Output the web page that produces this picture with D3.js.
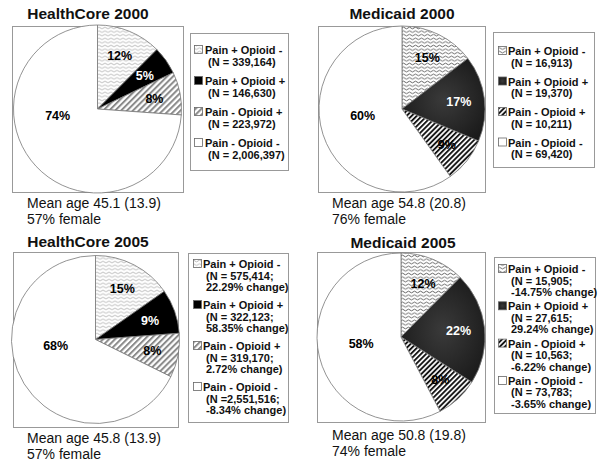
<!DOCTYPE html>
<html><head><meta charset="utf-8">
<script src="https://cdn.jsdelivr.net/npm/d3@7/dist/d3.min.js"></script>
<style>body{margin:0;background:#fff}svg{display:block}text{font-family:"Liberation Sans",Arial,sans-serif}</style>
</head><body><svg id="c" width="600" height="465"></svg>
<script>
// ---- data ----
const panelTitles = ["HealthCore 2000", "Medicaid 2000", "HealthCore 2005", "Medicaid 2005"];
const categories = ["Pain + Opioid -", "Pain + Opioid +", "Pain - Opioid +", "Pain - Opioid -"];
const countsHC2000 = [339164, 146630, 223972, 2006397];
const countsMC2000 = [16913, 19370, 10211, 69420];
const countsHC2005 = [575414, 322123, 319170, 2551516];
const countsMC2005 = [15905, 27615, 10563, 73783];
const nLabelsHC2000 = ["(N = 339,164)", "(N = 146,630)", "(N = 223,972)", "(N = 2,006,397)"];
const nLabelsMC2000 = ["(N = 16,913)", "(N = 19,370)", "(N = 10,211)", "(N = 69,420)"];
const nLabelsHC2005 = ["(N = 575,414;", "(N = 322,123;", "(N = 319,170;", "(N =2,551,516;"];
const nLabelsMC2005 = ["(N = 15,905;", "(N = 27,615;", "(N = 10,563;", "(N = 73,783;"];
const changeHC2005 = ["22.29% change)", "58.35% change)", "2.72% change)", "-8.34% change)"];
const changeMC2005 = ["-14.75% change)", "29.24% change)", "-6.22% change)", "-3.65% change)"];
const meanAgeLines = ["Mean age 45.1 (13.9)", "Mean age 54.8 (20.8)", "Mean age 45.8 (13.9)", "Mean age 50.8 (19.8)"];
const femaleLines = ["57% female", "76% female", "57% female", "74% female"];

const svg = d3.select("#c");
const defs = svg.append("defs");

function makePatterns(id, waveColor, stripeColor, stripeW, stripeGap) {
  const w = defs.append("pattern").attr("id", "wave" + id).attr("patternUnits", "userSpaceOnUse")
    .attr("width", 6).attr("height", 3.6);
  w.append("rect").attr("width", 6).attr("height", 3.6).attr("fill", "#fff");
  w.append("path").attr("d", "M0 1.8 Q1.5 0.2 3 1.8 T6 1.8").attr("fill", "none")
    .attr("stroke", waveColor).attr("stroke-width", 0.9);
  const s = defs.append("pattern").attr("id", "stripe" + id).attr("patternUnits", "userSpaceOnUse")
    .attr("width", stripeGap).attr("height", 10).attr("patternTransform", "rotate(45)");
  s.append("rect").attr("width", stripeGap).attr("height", 10).attr("fill", "#fff");
  s.append("rect").attr("width", stripeW).attr("height", 10).attr("fill", stripeColor);
}
makePatterns("HC", "#b0b0b0", "#8a8a8a", 2, 4.2);
makePatterns("MC", "#555", "#151515", 1.9, 3.6);
const g = defs.append("radialGradient").attr("id", "darkMC").attr("cx", "50%").attr("cy", "50%").attr("r", "60%");
g.append("stop").attr("offset", "0%").attr("stop-color", "#3a3a3a");
g.append("stop").attr("offset", "100%").attr("stop-color", "#1a1a1a");

const panels = [
  { title: panelTitles[0], counts: countsHC2000, lines: [nLabelsHC2000], kind: "HC",
    titleX: 88, titleY: 19, box: [12, 26, 171, 166], c: [97.5, 109], r: 84,
    leg: [190, 33, 98, 137], legY: 54, legStep: 31, textX: 205, iconX: 194,
    capX: 27, capY: 208 },
  { title: panelTitles[1], counts: countsMC2000, lines: [nLabelsMC2000], kind: "MC",
    titleX: 402, titleY: 19, box: [318, 26, 167, 166], c: [402, 109], r: 83,
    leg: [493, 32, 101, 135], legY: 55, legStep: 30.5, textX: 508, iconX: 498,
    capX: 332, capY: 208 },
  { title: panelTitles[2], counts: countsHC2005, lines: [nLabelsHC2005, changeHC2005], kind: "HC",
    titleX: 88, titleY: 247, box: [13, 252, 165, 175], c: [95.5, 339.5], r: 84,
    leg: [188, 253, 100, 169], legY: 268, legStep: 41, textX: 203, iconX: 193,
    capX: 27, capY: 443 },
  { title: panelTitles[3], counts: countsMC2005, lines: [nLabelsMC2005, changeMC2005], kind: "MC",
    titleX: 403, titleY: 248, box: [317, 252, 168, 170], c: [401, 337], r: 84,
    leg: [494, 257, 101, 156], legY: 273, legStep: 37.3, textX: 508, iconX: 498,
    capX: 332, capY: 440 }
];

function fillFor(kind, i) {
  if (i === 0) return `url(#wave${kind})`;
  if (i === 1) return kind === "MC" ? "url(#darkMC)" : "#000";
  if (i === 2) return `url(#stripe${kind})`;
  return "#fff";
}

const pie = d3.pie().sort(null).value(d => d);

panels.forEach(p => {
  const grp = svg.append("g");
  grp.append("text").attr("x", p.titleX).attr("y", p.titleY).attr("text-anchor", "middle")
    .attr("font-size", 15.5).attr("font-weight", "bold").attr("fill", "#111").text(p.title);
  grp.append("rect").attr("x", p.box[0] + 0.5).attr("y", p.box[1] + 0.5)
    .attr("width", p.box[2]).attr("height", p.box[3]).attr("fill", "#fff").attr("stroke", "#999");

  const arcs = pie(p.counts);
  const total = d3.sum(p.counts);
  const arc = d3.arc().innerRadius(0).outerRadius(p.r);
  const pg = grp.append("g").attr("transform", `translate(${p.c[0]},${p.c[1]})`);
  pg.selectAll("path").data(arcs).join("path")
    .attr("d", arc).attr("fill", (d, i) => fillFor(p.kind, i))
    .attr("stroke", "#777").attr("stroke-width", 0.8);

  const maxIdx = d3.maxIndex(p.counts);
  const labArc = d3.arc().innerRadius(p.r * 0.69).outerRadius(p.r * 0.69);
  pg.selectAll("text.pct").data(arcs).join("text").attr("class", "pct")
    .attr("transform", (d, i) => {
      let x, y;
      if (i === maxIdx) {
        const a = 261 * Math.PI / 180, rr = p.r * 0.48;
        x = Math.sin(a) * rr; y = -Math.cos(a) * rr;
      } else {
        [x, y] = labArc.centroid(d);
      }
      return `translate(${x},${y})`;
    })
    .attr("text-anchor", "middle").attr("dy", "0.36em")
    .attr("font-size", 12.5).attr("font-weight", "bold")
    .attr("fill", (d, i) => i === 1 ? "#fff" : "#000")
    .text(d => Math.round(d.value / total * 100) + "%");

  // legend
  grp.append("rect").attr("x", p.leg[0] + 0.5).attr("y", p.leg[1] + 0.5)
    .attr("width", p.leg[2]).attr("height", p.leg[3]).attr("fill", "#fff").attr("stroke", "#999");
  categories.forEach((cat, i) => {
    const y0 = p.legY + i * p.legStep;
    grp.append("rect").attr("x", p.iconX + 0.5).attr("y", y0 - 8.5).attr("width", 8).attr("height", 8)
      .attr("fill", fillFor(p.kind, i)).attr("stroke", "#666").attr("stroke-width", 0.8);
    const t = grp.append("text").attr("font-size", 11).attr("font-weight", "bold").attr("fill", "#111");
    t.append("tspan").attr("x", p.textX).attr("y", y0).text(cat);
    p.lines.forEach((arr, k) => {
      t.append("tspan").attr("x", p.textX + 3).attr("y", y0 + (k + 1) * 11.5).text(arr[i]);
    });
  });

  const idx = panels.indexOf(p);
  grp.append("text").attr("x", p.capX).attr("y", p.capY).attr("font-size", 14).attr("fill", "#111")
    .text(meanAgeLines[idx]);
  grp.append("text").attr("x", p.capX).attr("y", p.capY + 16).attr("font-size", 14).attr("fill", "#111")
    .text(femaleLines[idx]);
});
</script></body></html>
